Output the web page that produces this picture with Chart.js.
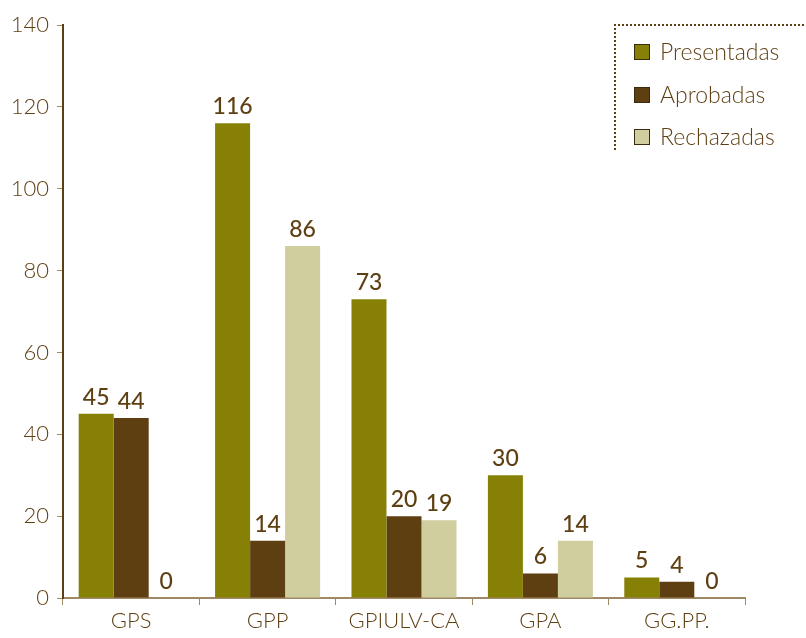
<!DOCTYPE html>
<html>
<head>
<meta charset="utf-8">
<script src="https://cdn.jsdelivr.net/npm/chart.js@4"></script>
<style>
  html, body { margin: 0; padding: 0; background: #fff; }
  #wrap { width: 806px; height: 638px; }
</style>
</head>
<body>
<div id="wrap"><canvas id="grupos"></canvas></div>
<script>
const grupos = ['GPS', 'GPP', 'GPIULV-CA', 'GPA', 'GG.PP.'];
const presentadas = [45, 116, 73, 30, 5];
const aprobadas = [44, 14, 20, 6, 4];
const rechazadas = [0, 86, 19, 14, 0];
const yTicks = [0, 20, 40, 60, 80, 100, 120, 140];

const marron = '#5e3f12';
const fuente = 'Lato, "Noto Sans", sans-serif';

// etiquetas de valor encima de cada barra
const valoresPlugin = {
    id: 'valores',
    afterDatasetsDraw(chart) {
        const ctx = chart.ctx;
        ctx.save();
        ctx.fillStyle = marron;
        ctx.font = '500 23px ' + fuente;
        ctx.textAlign = 'center';
        ctx.textBaseline = 'bottom';
        chart.data.datasets.forEach((ds, i) => {
            chart.getDatasetMeta(i).data.forEach((bar, j) => {
                ctx.fillText(ds.data[j], bar.x, bar.y - 5);
            });
        });
        ctx.restore();
    }
};

// leyenda con borde punteado arriba a la derecha
const leyendaPlugin = {
    id: 'leyenda',
    afterDraw(chart) {
        const ctx = chart.ctx;
        ctx.save();
        ctx.strokeStyle = marron;
        ctx.lineWidth = 2;
        ctx.setLineDash([2, 2]);
        ctx.beginPath();
        ctx.moveTo(615, 150);
        ctx.lineTo(615, 25);
        ctx.lineTo(806, 25);
        ctx.stroke();
        ctx.setLineDash([]);
        ctx.font = '300 23px ' + fuente;
        ctx.textBaseline = 'middle';
        const filas = [52, 95, 137];
        chart.data.datasets.forEach((ds, i) => {
            const y = filas[i];
            ctx.fillStyle = ds.backgroundColor;
            ctx.fillRect(634, y - 8, 16, 16);
            ctx.lineWidth = 1;
            ctx.strokeStyle = '#3a2a10';
            ctx.strokeRect(634.5, y - 7.5, 15, 15);
            ctx.fillStyle = marron;
            ctx.fillText(ds.label, 660, y + 1);
        });
        ctx.restore();
    }
};

new Chart(document.getElementById('grupos'), {
    type: 'bar',
    data: {
        labels: grupos,
        datasets: [
            { label: 'Presentadas', data: presentadas, backgroundColor: '#868007' },
            { label: 'Aprobadas', data: aprobadas, backgroundColor: '#5e3f12' },
            { label: 'Rechazadas', data: rechazadas, backgroundColor: '#d0cd9e' }
        ]
    },
    options: {
        responsive: true,
        maintainAspectRatio: false,
        animation: false,
        layout: { padding: { top: 25, right: 61, bottom: 0, left: 0 } },
        datasets: { bar: { categoryPercentage: 0.77, barPercentage: 1.0 } },
        plugins: {
            legend: { display: false },
            tooltip: { enabled: false }
        },
        scales: {
            x: {
                afterFit(axis) { axis.height = 40; },
                grid: { display: true, drawOnChartArea: false, tickLength: 7, color: '#a08a66', offset: true },
                border: { color: '#a08a66', width: 2 },
                ticks: { color: marron, font: { family: fuente, size: 22, weight: '300' }, padding: 3 }
            },
            y: {
                min: 0,
                max: 140,
                afterBuildTicks(axis) { axis.ticks = yTicks.map(v => ({ value: v })); },
                afterFit(axis) { axis.width = 63; },
                grid: { display: true, drawOnChartArea: false, tickLength: 6, color: '#a08a66' },
                border: { color: marron, width: 2 },
                ticks: { color: marron, font: { family: fuente, size: 22, weight: '300' }, padding: 8 }
            }
        }
    },
    plugins: [valoresPlugin, leyendaPlugin]
});
</script>
</body>
</html>
